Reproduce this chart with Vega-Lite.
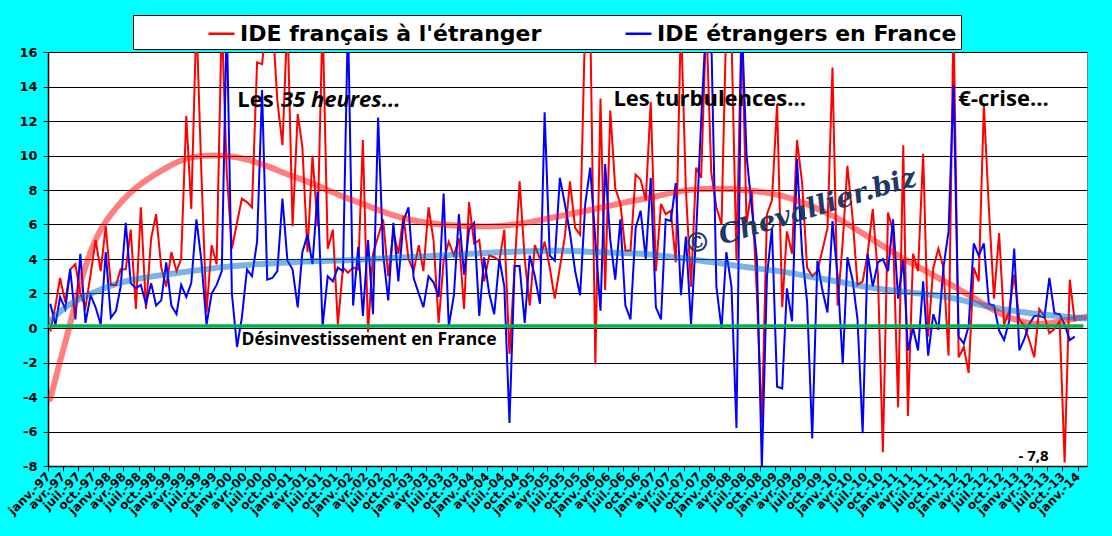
{
  "$schema": "https://vega.github.io/schema/vega-lite/v6.json",
  "width": 1039,
  "height": 414,
  "autosize": {"type": "none"},
  "padding": {"left": 48, "top": 52, "right": 25, "bottom": 70},
  "background": "#00FFFF",
  "view": {"fill": "white", "stroke": "#808080"},
  "config": {
    "axis": {"domainColor": "black", "tickColor": "black", "labelColor": "black", "labelFont": "DejaVu Sans", "labelFontWeight": "bold"},
    "axisX": {"grid": false, "tickSize": 5, "labelFontSize": 12, "domainWidth": 1.5},
    "axisY": {"grid": true, "gridColor": "black", "gridOpacity": 1, "gridWidth": 1, "tickSize": 5, "labelFontSize": 13, "domainWidth": 1.5, "tickCount": 12, "labelOverlap": false, "labelPadding": 6}
  },
  "datasets": {
    "ide": [
      {"d":"1997-01-15","fr":-0.2,"et":1.4},{"d":"1997-02-15","fr":1.3,"et":0.2},{"d":"1997-03-15","fr":2.9,"et":1.8},
      {"d":"1997-04-15","fr":1.5,"et":1.1},{"d":"1997-05-15","fr":3.4,"et":3.4},{"d":"1997-06-15","fr":3.7,"et":0.5},
      {"d":"1997-07-15","fr":2.0,"et":4.3},{"d":"1997-08-15","fr":1.2,"et":0.3},{"d":"1997-09-15","fr":3.1,"et":1.9},
      {"d":"1997-10-15","fr":5.1,"et":1.2},{"d":"1997-11-15","fr":3.3,"et":0.2},{"d":"1997-12-15","fr":5.9,"et":4.4},
      {"d":"1998-01-15","fr":2.5,"et":0.6},{"d":"1998-02-15","fr":2.5,"et":1.0},{"d":"1998-03-15","fr":3.4,"et":2.4},
      {"d":"1998-04-15","fr":3.4,"et":6.1},{"d":"1998-05-15","fr":5.7,"et":2.6},{"d":"1998-06-15","fr":1.1,"et":2.3},
      {"d":"1998-07-15","fr":7.0,"et":2.5},{"d":"1998-08-15","fr":1.1,"et":1.4},{"d":"1998-09-15","fr":5.2,"et":2.6},
      {"d":"1998-10-15","fr":6.6,"et":1.3},{"d":"1998-11-15","fr":3.5,"et":1.6},{"d":"1998-12-15","fr":2.4,"et":3.8},
      {"d":"1999-01-15","fr":4.4,"et":1.3},{"d":"1999-02-15","fr":3.3,"et":0.8},{"d":"1999-03-15","fr":4.0,"et":2.5},
      {"d":"1999-04-15","fr":12.3,"et":1.8},{"d":"1999-05-15","fr":6.9,"et":2.6},{"d":"1999-06-15","fr":18,"et":6.3},
      {"d":"1999-07-15","fr":9,"et":3.9},{"d":"1999-08-15","fr":0.9,"et":0.2},{"d":"1999-09-15","fr":4.8,"et":2.0},
      {"d":"1999-10-15","fr":3.7,"et":2.5},{"d":"1999-11-15","fr":18,"et":3.3},{"d":"1999-12-15","fr":9,"et":18},
      {"d":"2000-01-15","fr":4.6,"et":2.0},{"d":"2000-02-15","fr":6.1,"et":-1.1},{"d":"2000-03-15","fr":7.5,"et":0.6},
      {"d":"2000-04-15","fr":7.3,"et":3.4},{"d":"2000-05-15","fr":7.0,"et":3.0},{"d":"2000-06-15","fr":15.4,"et":5.0},
      {"d":"2000-07-15","fr":15.3,"et":13.8},{"d":"2000-08-15","fr":18,"et":2.8},{"d":"2000-09-15","fr":18,"et":2.9},
      {"d":"2000-10-15","fr":13.2,"et":3.3},{"d":"2000-11-15","fr":10.6,"et":7.5},{"d":"2000-12-15","fr":18,"et":3.9},
      {"d":"2001-01-15","fr":5.9,"et":3.4},{"d":"2001-02-15","fr":12.4,"et":1.2},{"d":"2001-03-15","fr":10.5,"et":4.4},
      {"d":"2001-04-15","fr":4.4,"et":5.4},{"d":"2001-05-15","fr":10.0,"et":3.7},{"d":"2001-06-15","fr":5.9,"et":7.9},
      {"d":"2001-07-15","fr":18,"et":0.1},{"d":"2001-08-15","fr":4.6,"et":3.0},{"d":"2001-09-15","fr":5.7,"et":2.7},
      {"d":"2001-10-15","fr":0.2,"et":3.5},{"d":"2001-11-15","fr":3.5,"et":3.3},{"d":"2001-12-15","fr":3.2,"et":18},
      {"d":"2002-01-15","fr":3.5,"et":1.3},{"d":"2002-02-15","fr":3.4,"et":4.7},{"d":"2002-03-15","fr":10.9,"et":0.7},
      {"d":"2002-04-15","fr":-0.25,"et":5.1},{"d":"2002-05-15","fr":4.3,"et":0.8},{"d":"2002-06-15","fr":5.3,"et":12.2},
      {"d":"2002-07-15","fr":6.3,"et":4.3},{"d":"2002-08-15","fr":3.0,"et":1.6},{"d":"2002-09-15","fr":5.6,"et":6.1},
      {"d":"2002-10-15","fr":4.3,"et":2.7},{"d":"2002-11-15","fr":6.5,"et":6.2},{"d":"2002-12-15","fr":4.0,"et":7.0},
      {"d":"2003-01-15","fr":3.3,"et":2.9},{"d":"2003-02-15","fr":4.8,"et":2.0},{"d":"2003-03-15","fr":3.3,"et":1.2},
      {"d":"2003-04-15","fr":7.0,"et":3.0},{"d":"2003-05-15","fr":5.1,"et":2.65},{"d":"2003-06-15","fr":0.3,"et":1.8},
      {"d":"2003-07-15","fr":3.9,"et":7.8},{"d":"2003-08-15","fr":5.0,"et":0.1},{"d":"2003-09-15","fr":4.2,"et":1.9},
      {"d":"2003-10-15","fr":5.2,"et":6.6},{"d":"2003-11-15","fr":1.1,"et":3.1},{"d":"2003-12-15","fr":7.3,"et":5.7},
      {"d":"2004-01-15","fr":4.9,"et":6.1},{"d":"2004-02-15","fr":5.1,"et":0.7},{"d":"2004-03-15","fr":2.7,"et":4.1},
      {"d":"2004-04-15","fr":4.2,"et":2.0},{"d":"2004-05-15","fr":4.1,"et":0.8},{"d":"2004-06-15","fr":3.9,"et":4.0},
      {"d":"2004-07-15","fr":5.7,"et":2.4},{"d":"2004-08-15","fr":-1.5,"et":-5.5},{"d":"2004-09-15","fr":3.5,"et":3.6},
      {"d":"2004-10-15","fr":8.5,"et":3.6},{"d":"2004-11-15","fr":4.0,"et":0.3},{"d":"2004-12-15","fr":1.3,"et":4.2},
      {"d":"2005-01-15","fr":4.8,"et":3.0},{"d":"2005-02-15","fr":4.0,"et":1.4},{"d":"2005-03-15","fr":5.0,"et":12.5},
      {"d":"2005-04-15","fr":3.5,"et":4.2},{"d":"2005-05-15","fr":1.7,"et":3.9},{"d":"2005-06-15","fr":3.5,"et":8.7},
      {"d":"2005-07-15","fr":5.3,"et":7.2},{"d":"2005-08-15","fr":8.5,"et":5.5},{"d":"2005-09-15","fr":5.8,"et":3.3},
      {"d":"2005-10-15","fr":5.4,"et":1.9},{"d":"2005-11-15","fr":18,"et":7.2},{"d":"2005-12-15","fr":18,"et":9.3},
      {"d":"2006-01-15","fr":-2.1,"et":5.1},{"d":"2006-02-15","fr":13.3,"et":1.0},{"d":"2006-03-15","fr":2.2,"et":9.5},
      {"d":"2006-04-15","fr":12.6,"et":5.1},{"d":"2006-05-15","fr":8.1,"et":2.8},{"d":"2006-06-15","fr":7.2,"et":6.3},
      {"d":"2006-07-15","fr":4.5,"et":1.3},{"d":"2006-08-15","fr":4.5,"et":0.5},{"d":"2006-09-15","fr":8.9,"et":5.8},
      {"d":"2006-10-15","fr":8.6,"et":6.8},{"d":"2006-11-15","fr":7.4,"et":4.0},{"d":"2006-12-15","fr":13.1,"et":8.7},
      {"d":"2007-01-15","fr":3.3,"et":1.2},{"d":"2007-02-15","fr":7.2,"et":0.5},{"d":"2007-03-15","fr":6.6,"et":6.3},
      {"d":"2007-04-15","fr":6.8,"et":6.2},{"d":"2007-05-15","fr":3.8,"et":8.4},{"d":"2007-06-15","fr":18,"et":1.9},
      {"d":"2007-07-15","fr":8,"et":5.3},{"d":"2007-08-15","fr":2.4,"et":0.2},{"d":"2007-09-15","fr":9.3,"et":5.5},
      {"d":"2007-10-15","fr":8.7,"et":12},{"d":"2007-11-15","fr":18,"et":18},{"d":"2007-12-15","fr":9,"et":17},
      {"d":"2008-01-15","fr":7.0,"et":2.4},{"d":"2008-02-15","fr":6.0,"et":-0.05},{"d":"2008-03-15","fr":18,"et":4.4},
      {"d":"2008-04-15","fr":17,"et":2.4},{"d":"2008-05-15","fr":3.9,"et":-5.8},{"d":"2008-06-15","fr":18,"et":18},
      {"d":"2008-07-15","fr":6.1,"et":10},{"d":"2008-08-15","fr":8.0,"et":7},{"d":"2008-09-15","fr":2.0,"et":4},
      {"d":"2008-10-15","fr":-5.5,"et":-8.1},{"d":"2008-11-15","fr":6.6,"et":3.0},{"d":"2008-12-15","fr":7.4,"et":5.8},
      {"d":"2009-01-15","fr":13.0,"et":-3.4},{"d":"2009-02-15","fr":1.2,"et":-3.5},{"d":"2009-03-15","fr":5.6,"et":2.3},
      {"d":"2009-04-15","fr":4.3,"et":0.4},{"d":"2009-05-15","fr":10.9,"et":9.8},{"d":"2009-06-15","fr":8.4,"et":4.3},
      {"d":"2009-07-15","fr":3.5,"et":1.5},{"d":"2009-08-15","fr":3.0,"et":-6.4},{"d":"2009-09-15","fr":3.3,"et":3.9},
      {"d":"2009-10-15","fr":4.5,"et":2.2},{"d":"2009-11-15","fr":5.8,"et":0.9},{"d":"2009-12-15","fr":15.1,"et":6.2},
      {"d":"2010-01-15","fr":1.3,"et":3.0},{"d":"2010-02-15","fr":5.0,"et":-2.1},{"d":"2010-03-15","fr":9.4,"et":4.1},
      {"d":"2010-04-15","fr":6.4,"et":2.8},{"d":"2010-05-15","fr":2.5,"et":0.5},{"d":"2010-06-15","fr":2.7,"et":-6.1},
      {"d":"2010-07-15","fr":4.3,"et":4.3},{"d":"2010-08-15","fr":6.9,"et":2.4},{"d":"2010-09-15","fr":3.1,"et":3.8},
      {"d":"2010-10-15","fr":-7.2,"et":4.0},{"d":"2010-11-15","fr":6.7,"et":3.3},{"d":"2010-12-15","fr":5.6,"et":6.3},
      {"d":"2011-01-15","fr":-4.6,"et":1.7},{"d":"2011-02-15","fr":10.6,"et":4.0},{"d":"2011-03-15","fr":-5.1,"et":-1.3},
      {"d":"2011-04-15","fr":4.3,"et":0.0},{"d":"2011-05-15","fr":3.3,"et":-1.3},{"d":"2011-06-15","fr":10.1,"et":2.7},
      {"d":"2011-07-15","fr":-0.5,"et":-1.6},{"d":"2011-08-15","fr":3.5,"et":0.8},{"d":"2011-09-15","fr":4.6,"et":-0.1},
      {"d":"2011-10-15","fr":3.5,"et":3.5},{"d":"2011-11-15","fr":-1.6,"et":5.6},{"d":"2011-12-15","fr":18,"et":14.1},
      {"d":"2012-01-15","fr":-1.7,"et":-0.5},{"d":"2012-02-15","fr":-1.1,"et":-0.9},{"d":"2012-03-15","fr":-2.6,"et":0.1},
      {"d":"2012-04-15","fr":3.5,"et":4.9},{"d":"2012-05-15","fr":2.7,"et":4.2},{"d":"2012-06-15","fr":12.9,"et":4.9},
      {"d":"2012-07-15","fr":7,"et":1.4},{"d":"2012-08-15","fr":1.7,"et":1.3},{"d":"2012-09-15","fr":5.5,"et":-0.15},
      {"d":"2012-10-15","fr":0.2,"et":-0.7},{"d":"2012-11-15","fr":1.0,"et":0.4},{"d":"2012-12-15","fr":3.1,"et":4.6},
      {"d":"2013-01-15","fr":0.5,"et":-1.3},{"d":"2013-02-15","fr":0.1,"et":-0.6},{"d":"2013-03-15","fr":-0.7,"et":0.2},
      {"d":"2013-04-15","fr":-1.7,"et":0.7},{"d":"2013-05-15","fr":1.1,"et":0.7},{"d":"2013-06-15","fr":0.7,"et":0.6},
      {"d":"2013-07-15","fr":-0.3,"et":2.9},{"d":"2013-08-15","fr":-0.05,"et":0.85},{"d":"2013-09-15","fr":0.4,"et":0.8},
      {"d":"2013-10-15","fr":-7.8,"et":0.2},{"d":"2013-11-15","fr":2.8,"et":-0.7},{"d":"2013-12-15","fr":0.4,"et":-0.5}
    ],
    "trend": [
      {"s":"fr","d":"1997-01-15","v":-4.1},{"s":"fr","d":"1997-03-15","v":-1.9},{"s":"fr","d":"1997-05-15","v":0.2},
      {"s":"fr","d":"1997-07-15","v":2.7},{"s":"fr","d":"1997-09-15","v":4.5},{"s":"fr","d":"1997-11-15","v":5.8},
      {"s":"fr","d":"1998-02-15","v":7.0},{"s":"fr","d":"1998-05-15","v":7.9},{"s":"fr","d":"1998-08-15","v":8.6},
      {"s":"fr","d":"1998-12-15","v":9.3},{"s":"fr","d":"1999-04-15","v":9.9},{"s":"fr","d":"1999-08-15","v":10.0},
      {"s":"fr","d":"1999-12-15","v":10.0},{"s":"fr","d":"2000-04-15","v":9.8},{"s":"fr","d":"2000-08-15","v":9.4},
      {"s":"fr","d":"2000-12-15","v":8.9},{"s":"fr","d":"2001-04-15","v":8.5},{"s":"fr","d":"2001-08-15","v":8.0},
      {"s":"fr","d":"2001-11-15","v":7.6},{"s":"fr","d":"2002-03-15","v":7.2},{"s":"fr","d":"2002-08-15","v":6.6},
      {"s":"fr","d":"2003-01-15","v":6.2},{"s":"fr","d":"2003-06-15","v":6.0},{"s":"fr","d":"2003-11-15","v":5.9},
      {"s":"fr","d":"2004-05-15","v":5.85},{"s":"fr","d":"2004-12-15","v":6.1},{"s":"fr","d":"2005-06-15","v":6.5},
      {"s":"fr","d":"2006-01-15","v":6.9},{"s":"fr","d":"2006-07-15","v":7.3},{"s":"fr","d":"2007-01-15","v":7.6},
      {"s":"fr","d":"2007-06-15","v":8.0},{"s":"fr","d":"2008-01-15","v":8.1},{"s":"fr","d":"2008-07-15","v":8.0},
      {"s":"fr","d":"2009-01-15","v":7.8},{"s":"fr","d":"2009-07-15","v":7.2},{"s":"fr","d":"2010-01-15","v":6.4},
      {"s":"fr","d":"2010-07-15","v":5.3},{"s":"fr","d":"2011-02-15","v":4.0},{"s":"fr","d":"2011-09-15","v":2.9},
      {"s":"fr","d":"2012-02-15","v":2.1},{"s":"fr","d":"2012-07-15","v":1.2},{"s":"fr","d":"2012-10-15","v":0.7},
      {"s":"fr","d":"2013-02-15","v":0.3},{"s":"fr","d":"2013-05-15","v":0.2},{"s":"fr","d":"2013-08-15","v":0.3},
      {"s":"fr","d":"2013-11-15","v":0.5},{"s":"fr","d":"2014-02-25","v":0.65},
      {"s":"et","d":"1997-01-15","v":0.4},{"s":"et","d":"1997-04-15","v":1.3},{"s":"et","d":"1997-09-15","v":2.0},
      {"s":"et","d":"1998-02-15","v":2.6},{"s":"et","d":"1998-07-15","v":2.9},{"s":"et","d":"1998-12-15","v":3.1},
      {"s":"et","d":"1999-05-15","v":3.3},{"s":"et","d":"1999-10-15","v":3.5},{"s":"et","d":"2000-05-15","v":3.7},
      {"s":"et","d":"2000-12-15","v":3.8},{"s":"et","d":"2001-06-15","v":3.9},{"s":"et","d":"2001-11-15","v":3.9},
      {"s":"et","d":"2002-08-15","v":4.05},{"s":"et","d":"2003-06-15","v":4.2},{"s":"et","d":"2004-06-15","v":4.4},
      {"s":"et","d":"2004-12-15","v":4.45},{"s":"et","d":"2005-06-15","v":4.5},{"s":"et","d":"2006-01-15","v":4.4},
      {"s":"et","d":"2006-07-15","v":4.35},{"s":"et","d":"2007-01-15","v":4.25},{"s":"et","d":"2007-06-15","v":4.05},
      {"s":"et","d":"2008-01-15","v":3.8},{"s":"et","d":"2008-07-15","v":3.5},{"s":"et","d":"2009-02-15","v":3.3},
      {"s":"et","d":"2009-07-15","v":3.0},{"s":"et","d":"2010-01-15","v":2.7},{"s":"et","d":"2010-07-15","v":2.35},
      {"s":"et","d":"2011-02-15","v":2.1},{"s":"et","d":"2011-09-15","v":1.9},{"s":"et","d":"2012-02-15","v":1.6},
      {"s":"et","d":"2012-07-15","v":1.2},{"s":"et","d":"2013-02-15","v":0.9},{"s":"et","d":"2013-08-15","v":0.7},
      {"s":"et","d":"2014-02-25","v":0.55}
    ],
    "zero": [{"a":"1997-01-01","b":"2014-02-06","v":0.12}],
    "notes": [
      {"k":"b","t":"Les","d":"2000-02-17","v":12.8},
      {"k":"i","t":"35 heures...","d":"2000-11-06","v":12.8},
      {"k":"b","t":"Les turbulences...","d":"2006-05-04","v":12.85},
      {"k":"b","t":"€-crise...","d":"2012-01-13","v":12.85},
      {"k":"m","t":"Désinvestissement  en France","d":"2000-03-13","v":-0.99},
      {"k":"s","t":"- 7,8","d":"2013-01-10","v":-7.69},
      {"k":"w","t":"© Chevallier.biz","d":"2009-06-04","v":6.7}
    ]
  },
  "layer": [
    {
      "data": {"name": "ide"},
      "transform": [{"fold": ["fr", "et"], "as": ["s", "v"]}],
      "mark": {"type": "line", "strokeWidth": 2, "clip": true},
      "encoding": {
        "x": {
          "field": "d", "type": "temporal", "title": null,
          "scale": {"type": "utc", "domain": [{"year": 1997, "month": 1, "date": 1, "utc": true}, {"year": 2014, "month": 2, "date": 27, "utc": true}]},
          "axis": {
            "tickCount": {"interval": "month", "step": 3},
            "labelAngle": -45, "labelAlign": "right", "labelBaseline": "middle", "labelPadding": 3,
            "labelOverlap": false, "labelBound": false, "labelFlush": false,
            "labelExpr": "['janv.','févr.','mars','avr.','mai','juin','juil.','août','sept.','oct.','nov.','déc.'][utcmonth(datum.value)] + '-' + utcFormat(datum.value, '%y')"
          }
        },
        "y": {
          "field": "v", "type": "quantitative", "title": null,
          "scale": {"domain": [-8, 16], "nice": false, "zero": false},
          "axis": {"labelExpr": "datum.value + ''"}
        },
        "color": {
          "field": "s", "type": "nominal",
          "scale": {"domain": ["fr", "et"], "range": ["#ff0000", "#0000ff"]},
          "legend": {
            "orient": "none", "legendX": 85, "legendY": -37, "direction": "horizontal",
            "title": "\u00a0", "titleOrient": "left", "titleFontSize": 1, "titlePadding": 70,
            "padding": 4, "fillColor": "white", "strokeColor": "black",
            "symbolType": "stroke", "symbolSize": 676, "symbolStrokeWidth": 2.5,
            "labelFont": "DejaVu Sans", "labelFontSize": 22, "labelFontWeight": "bold", "labelColor": "black",
            "labelOffset": 4, "labelLimit": 600, "columnPadding": 78,
            "labelExpr": "datum.value == 'fr' ? \"IDE français à l'étranger\" : \"IDE étrangers en France\u00a0\u00a0\u00a0\u00a0\u00a0\u00a0\u00a0\u00a0\u00a0\u00a0\u00a0\""
          }
        }
      }
    },
    {
      "data": {"name": "trend"},
      "mark": {"type": "line", "interpolate": "basis", "strokeWidth": 6, "opacity": 0.5, "strokeCap": "round", "clip": true},
      "encoding": {
        "x": {"field": "d", "type": "temporal", "title": null},
        "y": {"field": "v", "type": "quantitative", "title": null},
        "stroke": {"field": "s", "type": "nominal", "scale": {"domain": ["fr", "et"], "range": ["#ff0000", "#0066cc"]}, "legend": null}
      }
    },
    {
      "data": {"name": "zero"},
      "mark": {"type": "rule", "color": "#00B050", "strokeWidth": 3.5},
      "encoding": {
        "x": {"field": "a", "type": "temporal", "title": null},
        "x2": {"field": "b"},
        "y": {"field": "v", "type": "quantitative", "title": null}
      }
    },
    {
      "data": {"name": "notes"},
      "transform": [{"filter": "datum.k == 'b'"}],
      "mark": {"type": "text", "font": "Open Sans", "fontWeight": "bold", "fontSize": 22, "align": "left", "baseline": "alphabetic", "color": "black"},
      "encoding": {
        "x": {"field": "d", "type": "temporal", "title": null},
        "y": {"field": "v", "type": "quantitative", "title": null},
        "text": {"field": "t"}
      }
    },
    {
      "data": {"name": "notes"},
      "transform": [{"filter": "datum.k == 'i'"}],
      "mark": {"type": "text", "font": "Open Sans", "fontWeight": "bold", "fontStyle": "italic", "fontSize": 22, "align": "left", "baseline": "alphabetic", "color": "black"},
      "encoding": {
        "x": {"field": "d", "type": "temporal", "title": null},
        "y": {"field": "v", "type": "quantitative", "title": null},
        "text": {"field": "t"}
      }
    },
    {
      "data": {"name": "notes"},
      "transform": [{"filter": "datum.k == 'm'"}],
      "mark": {"type": "text", "font": "Open Sans", "fontWeight": "bold", "fontSize": 17.5, "align": "left", "baseline": "alphabetic", "color": "black"},
      "encoding": {
        "x": {"field": "d", "type": "temporal", "title": null},
        "y": {"field": "v", "type": "quantitative", "title": null},
        "text": {"field": "t"}
      }
    },
    {
      "data": {"name": "notes"},
      "transform": [{"filter": "datum.k == 's'"}],
      "mark": {"type": "text", "font": "Open Sans", "fontWeight": "bold", "fontSize": 15, "align": "left", "baseline": "alphabetic", "color": "black"},
      "encoding": {
        "x": {"field": "d", "type": "temporal", "title": null},
        "y": {"field": "v", "type": "quantitative", "title": null},
        "text": {"field": "t"}
      }
    },
    {
      "data": {"name": "notes"},
      "transform": [{"filter": "datum.k == 'w'"}],
      "mark": {"type": "text", "font": "DejaVu Serif", "fontWeight": "bold", "fontStyle": "italic", "fontSize": 27, "align": "center", "baseline": "middle", "angle": -17, "color": "#1F3864"},
      "encoding": {
        "x": {"field": "d", "type": "temporal", "title": null},
        "y": {"field": "v", "type": "quantitative", "title": null},
        "text": {"field": "t"}
      }
    }
  ]
}
